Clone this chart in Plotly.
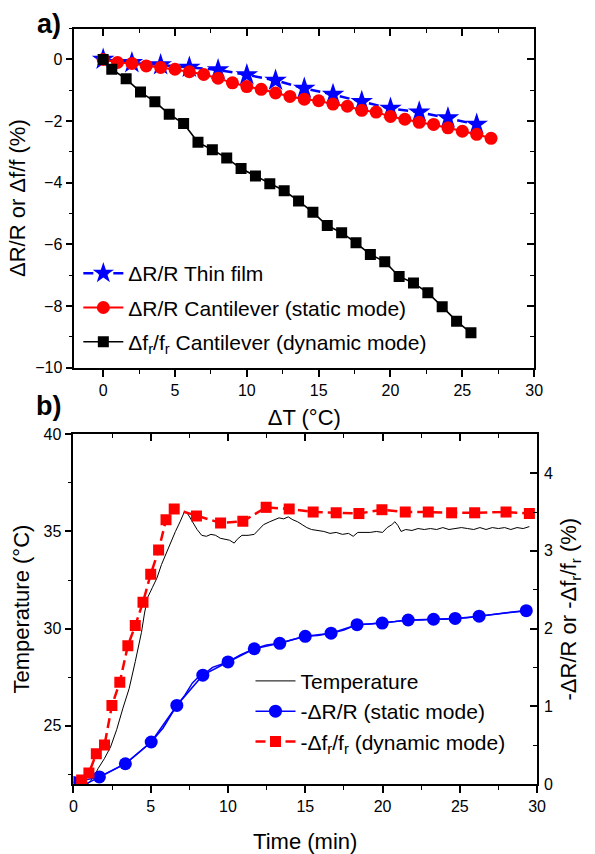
import plotly.graph_objects as go

# ---------------- Panel a data ----------------
film_dT = [0, 2, 4, 6, 8, 10, 12, 14, 16, 18, 20, 22, 24, 26]
film_dR = [0.0, -0.11, -0.18, -0.26, -0.34, -0.50, -0.68, -0.94, -1.14, -1.37, -1.59, -1.71, -1.90, -2.11]

cant_dT = list(range(0, 28))
cant_dR = [0.0, -0.10, -0.13, -0.21, -0.26, -0.32, -0.40, -0.49, -0.61, -0.76, -0.88, -0.97, -1.09, -1.20,
           -1.29, -1.34, -1.45, -1.52, -1.65, -1.71, -1.85, -1.94, -2.04, -2.11, -2.22, -2.33, -2.43, -2.56]

dyn_dT = [0, 0.6, 1.6, 2.6, 3.6, 4.6, 5.6, 6.6, 7.6, 8.6, 9.6, 10.6, 11.6, 12.6, 13.6,
          14.6, 15.6, 16.6, 17.6, 18.6, 19.6, 20.6, 21.6, 22.6, 23.6, 24.6, 25.6]
dyn_df = [0.0, -0.32, -0.63, -1.06, -1.37, -1.78, -2.08, -2.69, -2.93, -3.20, -3.54, -3.78, -4.03, -4.26, -4.59,
          -4.96, -5.39, -5.62, -5.95, -6.33, -6.56, -7.04, -7.25, -7.57, -8.02, -8.49, -8.87]

# ---------------- Panel b data ----------------
temp_t = [0.0, 0.5, 1.0, 1.3, 1.6, 2.0, 2.4, 2.8, 3.2, 3.6, 4.0, 4.4, 4.6, 4.8, 5.1, 5.4, 5.7, 6.0, 6.3, 6.6,
          6.9, 7.2, 7.4, 7.7, 8.0, 8.3, 8.6, 8.9, 9.2, 9.5, 9.8, 10.1, 10.4, 10.6, 10.9, 11.3, 11.7, 12.0,
          12.3, 12.7, 13.0, 13.3, 13.6, 13.9, 14.2, 14.5, 14.8, 15.1, 15.4, 15.8, 16.2, 16.6, 17.0, 17.4,
          17.8, 18.1, 18.4, 18.8, 19.2, 19.6, 20.0, 20.3, 20.6, 20.8, 21.0, 21.2, 21.5, 21.9, 22.3, 22.7,
          23.1, 23.5, 23.9, 24.3, 24.7, 25.1, 25.5, 25.9, 26.3, 26.7, 27.1, 27.5, 27.9, 28.3, 28.7, 29.1, 29.5]
temp_C = [21.9, 21.9, 22.05, 22.35, 22.8, 23.3, 23.9, 24.8, 25.9, 26.9, 28.3, 29.8, 30.8, 31.6, 32.1, 32.6,
          33.3, 33.9, 34.5, 35.0, 35.5, 36.05, 35.9, 35.5, 35.1, 34.8, 34.75, 34.85, 34.8, 34.65, 34.6, 34.55,
          34.4, 34.6, 34.8, 34.8, 34.85, 35.1, 35.35, 35.5, 35.6, 35.7, 35.65, 35.75, 35.6, 35.5, 35.35, 35.2,
          35.1, 35.05, 35.0, 34.9, 34.95, 34.85, 34.9, 34.75, 34.95, 34.95, 34.95, 35.0, 34.95, 35.2, 35.35,
          35.5, 35.3, 35.0, 35.1, 35.05, 35.15, 35.1, 35.15, 35.1, 35.2, 35.1, 35.15, 35.2, 35.15, 35.1, 35.2,
          35.1, 35.2, 35.15, 35.2, 35.1, 35.2, 35.15, 35.25]

static_line_t = [0.0, 0.8, 1.2, 1.68, 2.5, 3.36, 4.2, 4.6, 5.03, 5.8, 6.3, 6.69, 7.2, 7.7, 8.0, 8.37, 9.0, 9.5,
                 10.0, 10.8, 11.2, 11.7, 12.5, 13.35, 14.2, 15.0, 15.8, 16.67, 17.5, 18.35, 19.2, 19.98, 20.8,
                 21.66, 22.5, 23.3, 24.0, 24.7, 25.5, 26.25, 27.0, 28.0, 28.7, 29.3]
static_line_v = [0.02, 0.0, 0.04, 0.09, 0.17, 0.26, 0.40, 0.47, 0.54, 0.72, 0.88, 1.01, 1.14, 1.30, 1.36, 1.40,
                 1.50, 1.53, 1.57, 1.66, 1.70, 1.74, 1.79, 1.81, 1.86, 1.90, 1.91, 1.94, 1.98, 2.05, 2.06, 2.07,
                 2.09, 2.11, 2.11, 2.12, 2.12, 2.13, 2.14, 2.16, 2.18, 2.20, 2.22, 2.23]
static_t = [0.0, 1.68, 3.36, 5.03, 6.69, 8.37, 10.0, 11.7, 13.35, 15.0, 16.67, 18.35, 19.98, 21.66, 23.3, 24.7, 26.25, 29.3]
static_v = [0.02, 0.09, 0.26, 0.54, 1.01, 1.40, 1.57, 1.74, 1.81, 1.90, 1.94, 2.05, 2.07, 2.11, 2.12, 2.13, 2.16, 2.23]

dynb_t = [0.53, 1.0, 1.48, 2.01, 2.49, 3.0, 3.52, 4.0, 4.5, 5.0, 5.51, 5.99, 6.52, 7.96, 9.52, 10.96, 12.47,
          13.96, 15.51, 17.0, 18.47, 19.96, 21.47, 22.96, 24.47, 25.96, 27.99, 29.5]
dynb_v = [0.05, 0.14, 0.39, 0.50, 1.01, 1.31, 1.78, 2.04, 2.34, 2.70, 3.01, 3.40, 3.54, 3.45, 3.36, 3.38, 3.56,
          3.54, 3.50, 3.49, 3.48, 3.53, 3.50, 3.50, 3.49, 3.49, 3.50, 3.48]

BLUE = "#0000ff"
RED = "#ff0000"
FONT = "Arial, Liberation Sans, sans-serif"

fig = go.Figure()

# Panel a traces
fig.add_trace(go.Scatter(x=film_dT, y=film_dR, mode="lines+markers", name="ΔR/R Thin film",
                         line=dict(color=BLUE, width=2.5, dash="10px,5px"),
                         marker=dict(symbol="star", size=17, color=BLUE),
                         xaxis="x", yaxis="y", legend="legend", legendgroup="a1"))
fig.add_trace(go.Scatter(x=cant_dT, y=cant_dR, mode="lines+markers", name="ΔR/R Cantilever (static mode)",
                         line=dict(color=RED, width=2),
                         marker=dict(symbol="circle", size=13, color=RED),
                         xaxis="x", yaxis="y", legend="legend", legendgroup="a2"))
fig.add_trace(go.Scatter(x=dyn_dT, y=dyn_df, mode="lines+markers",
                         name="Δf<sub>r</sub>/f<sub>r</sub> Cantilever (dynamic mode)",
                         line=dict(color="black", width=1.6),
                         marker=dict(symbol="square", size=11, color="black"),
                         xaxis="x", yaxis="y", legend="legend", legendgroup="a3"))
# empty helpers for the mirrored tick axes
fig.add_trace(go.Scatter(x=[], y=[], xaxis="x3", yaxis="y", showlegend=False, hoverinfo="skip"))
fig.add_trace(go.Scatter(x=[], y=[], xaxis="x", yaxis="y3", showlegend=False, hoverinfo="skip"))

# Panel b traces
fig.add_trace(go.Scatter(x=temp_t, y=temp_C, mode="lines", name="Temperature",
                         line=dict(color="black", width=1),
                         xaxis="x2", yaxis="y2", legend="legend2", legendgroup="b1"))
fig.add_trace(go.Scatter(x=static_line_t, y=static_line_v, mode="lines", showlegend=False,
                         line=dict(color=BLUE, width=1.5),
                         xaxis="x2", yaxis="y4", hoverinfo="skip"))
fig.add_trace(go.Scatter(x=static_t, y=static_v, mode="lines+markers", name="-ΔR/R (static mode)",
                         line=dict(color=BLUE, width=1.5),
                         marker=dict(symbol="circle", size=13, color=BLUE),
                         xaxis="x2", yaxis="y4", legend="legend2", legendgroup="b2"))
fig.add_trace(go.Scatter(x=dynb_t, y=dynb_v, mode="lines+markers",
                         name="-Δf<sub>r</sub>/f<sub>r</sub> (dynamic mode)",
                         line=dict(color=RED, width=2.5, dash="10px,5px"),
                         marker=dict(symbol="square", size=11, color=RED),
                         xaxis="x2", yaxis="y4", legend="legend2", legendgroup="b3"))
fig.add_trace(go.Scatter(x=[], y=[], xaxis="x4", yaxis="y2", showlegend=False, hoverinfo="skip"))

W, H = 595, 854
ax_a = [72 / W, 542 / W]
ay_a = [1 - 367 / H, 1 - 21 / H]
ax_b = [71 / W, 545 / W]
ay_b = [1 - 791.7 / H, 1 - 435 / H]

tickfont = dict(family=FONT, size=16, color="black")
titlefont = dict(family=FONT, size=22, color="black")
legfont = dict(family=FONT, size=21, color="black")
common = dict(showgrid=False, zeroline=False, showline=True, linecolor="black", linewidth=1.8,
              ticks="outside", ticklen=7, tickwidth=1.6, tickcolor="black", tickfont=tickfont)

fig.update_layout(
    width=W, height=H, margin=dict(l=0, r=0, t=0, b=0),
    paper_bgcolor="white", plot_bgcolor="white",
    font=dict(family=FONT, color="black"),
    xaxis=dict(domain=ax_a, anchor="y", range=[-2, 30], dtick=5, tick0=0, mirror=True,
               minor=dict(dtick=2.5, ticks="outside", ticklen=4, tickwidth=1.4, tickcolor="black"),
               title=dict(text="ΔT (°C)", font=titlefont, standoff=12), **common),
    yaxis=dict(domain=ay_a, anchor="x", range=[-10, 1], dtick=2, tick0=0, mirror=True,
               minor=dict(dtick=1, ticks="outside", ticklen=4, tickwidth=1.4, tickcolor="black"),
               title=dict(text="ΔR/R or Δf/f (%)", font=titlefont, standoff=3), **common),
    xaxis3=dict(overlaying="x", anchor="y", side="top", range=[-2, 30], dtick=5, tick0=0,
                showgrid=False, zeroline=False, showline=False, showticklabels=False,
                ticks="inside", ticklen=7, tickwidth=1.6, tickcolor="black",
                minor=dict(dtick=2.5, ticks="inside", ticklen=4, tickwidth=1.4, tickcolor="black")),
    yaxis3=dict(overlaying="y", anchor="x", side="right", range=[-10, 1], dtick=2, tick0=0,
                showgrid=False, zeroline=False, showline=False, showticklabels=False,
                ticks="inside", ticklen=7, tickwidth=1.6, tickcolor="black",
                minor=dict(dtick=1, ticks="inside", ticklen=4, tickwidth=1.4, tickcolor="black")),
    xaxis2=dict(domain=ax_b, anchor="y2", range=[0, 30], dtick=5, tick0=0, mirror=True,
                minor=dict(dtick=2.5, ticks="outside", ticklen=4, tickwidth=1.4, tickcolor="black"),
                title=dict(text="Time (min)", font=titlefont, standoff=21), **common),
    yaxis2=dict(domain=ay_b, anchor="x2", range=[22, 40], dtick=5, tick0=0, mirror=True,
                minor=dict(dtick=2.5, ticks="outside", ticklen=4, tickwidth=1.4, tickcolor="black"),
                title=dict(text="Temperature (°C)", font=titlefont, standoff=8), **common),
    xaxis4=dict(overlaying="x2", anchor="y2", side="top", range=[0, 30], dtick=5, tick0=0,
                showgrid=False, zeroline=False, showline=False, showticklabels=False,
                ticks="inside", ticklen=7, tickwidth=1.6, tickcolor="black",
                minor=dict(dtick=2.5, ticks="inside", ticklen=4, tickwidth=1.4, tickcolor="black")),
    yaxis4=dict(overlaying="y2", anchor="x2", side="right", range=[0, 4.5], dtick=1, tick0=0,
                showgrid=False, zeroline=False, showline=False, tickfont=tickfont,
                ticks="inside", ticklen=7, tickwidth=1.6, tickcolor="black", ticklabelstandoff=6,
                minor=dict(dtick=0.5, ticks="inside", ticklen=4, tickwidth=1.4, tickcolor="black"),
                title=dict(text="-ΔR/R or -Δf<sub>r</sub>/f<sub>r</sub> (%)", font=titlefont, standoff=8)),
    legend=dict(x=76 / W, y=1 - 250 / H, xanchor="left", yanchor="top", bgcolor="rgba(0,0,0,0)",
                font=legfont, tracegroupgap=4, traceorder="grouped", itemwidth=40),
    legend2=dict(x=252 / W, y=1 - 666 / H, xanchor="left", yanchor="top", bgcolor="rgba(0,0,0,0)",
                 font=legfont, tracegroupgap=0, traceorder="grouped", itemwidth=40),
    annotations=[
        dict(text="<b>a)</b>", x=46 / W, y=1 - 16 / H, xref="paper", yref="paper", showarrow=False,
             xanchor="center", yanchor="middle", font=dict(family=FONT, size=27, color="black")),
        dict(text="<b>b)</b>", x=46 / W, y=1 - 406 / H, xref="paper", yref="paper", showarrow=False,
             xanchor="center", yanchor="middle", font=dict(family=FONT, size=27, color="black")),
    ],
)

fig.write_html("out.html", config={"displayModeBar": False},
               post_script="document.body.style.margin='0px';")
